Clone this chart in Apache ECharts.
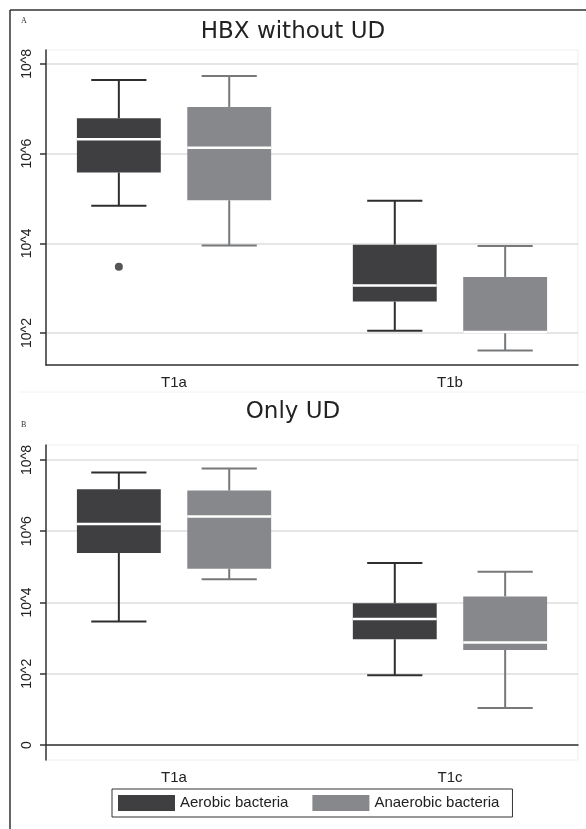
<!DOCTYPE html>
<html>
<head>
<meta charset="utf-8">
<script src="https://cdn.jsdelivr.net/npm/echarts@6/dist/echarts.min.js"></script>
<style>
html,body{margin:0;padding:0;background:#fff;}
#chart{width:586px;height:829px;}
</style>
</head>
<body>
<div id="chart"></div>
<script>
// ---- data (log10 CFU values) ----
const titleA = 'HBX without UD';
const titleB = 'Only UD';
const categoriesA = ['T1a', 'T1b'];
const categoriesB = ['T1a', 'T1c'];
const seriesNames = ['Aerobic bacteria', 'Anaerobic bacteria'];
// [min, Q1, median, Q3, max]
const aerobicA   = [[4.84, 5.58, 6.32, 6.79, 7.64], [2.05, 2.70, 3.06, 3.97, 4.95]];
const anaerobicA = [[3.95, 4.96, 6.13, 7.04, 7.73], [1.61, 2.00, 2.02, 3.25, 3.94]];
const outliersA  = [[1, 3.48]];   // [category (1-based), value]
const aerobicB   = [[3.47, 5.39, 6.20, 7.18, 7.65], [1.96, 2.97, 3.54, 3.98, 5.11]];
const anaerobicB = [[4.65, 4.95, 6.41, 7.14, 7.76], [1.04, 2.67, 2.88, 4.17, 4.86]];
const yTicksA = [2, 4, 6, 8];
const yTicksB = [0, 2, 4, 6, 8];
const yLabel = v => (v === 0 ? '0' : '10^' + v);

// ---- styling ----
const colAer = '#3f3f41', colAerLine = '#2e2e2e';
const colAna = '#87888b', colAnaLine = '#77787a';
const font = 'Liberation Sans, Arial, sans-serif';

function toItems(arr) { return arr.map((d, i) => [i + 1].concat(d)); }

function makeRender(off, fill, line) {
  return function (params, api) {
    const cx = api.value(0) + off;
    const mn = api.value(1), q1 = api.value(2), md = api.value(3), q3 = api.value(4), mx = api.value(5);
    const hw = 0.152, cw = 0.1;
    const p = (dx, v) => api.coord([cx + dx, v]);
    const ls = { stroke: line, lineWidth: 2 };
    const a = p(-hw, q3), b = p(hw, q1);
    return {
      type: 'group',
      children: [
        { type: 'line', shape: { x1: p(0, q3)[0], y1: p(0, q3)[1], x2: p(0, mx)[0], y2: p(0, mx)[1] }, style: ls },
        { type: 'line', shape: { x1: p(-cw, mx)[0], y1: p(-cw, mx)[1], x2: p(cw, mx)[0], y2: p(cw, mx)[1] }, style: ls },
        { type: 'line', shape: { x1: p(0, q1)[0], y1: p(0, q1)[1], x2: p(0, mn)[0], y2: p(0, mn)[1] }, style: ls },
        { type: 'line', shape: { x1: p(-cw, mn)[0], y1: p(-cw, mn)[1], x2: p(cw, mn)[0], y2: p(cw, mn)[1] }, style: ls },
        { type: 'rect', shape: { x: a[0], y: a[1], width: b[0] - a[0], height: b[1] - a[1] }, style: { fill: fill } },
        { type: 'line', shape: { x1: p(-hw, md)[0], y1: p(-hw, md)[1], x2: p(hw, md)[0], y2: p(hw, md)[1] }, style: { stroke: '#ffffff', lineWidth: 2.5 } }
      ]
    };
  };
}

function boxSeries(name, data, gi, off, fill, line) {
  return {
    type: 'custom', name: name, xAxisIndex: gi, yAxisIndex: gi,
    color: fill, itemStyle: { color: fill },
    encode: { x: 0, y: [1, 2, 3, 4, 5] },
    data: toItems(data),
    renderItem: makeRender(off, fill, line),
    silent: true
  };
}

function xAxis(gi, cats) {
  return {
    type: 'value', gridIndex: gi, min: 0.536, max: 2.464,
    splitLine: { show: false },
    axisLine: { lineStyle: { color: '#333', width: 1.5 } },
    axisTick: { show: false, customValues: [1, 2] },
    axisLabel: { customValues: [1, 2], formatter: v => cats[Math.round(v) - 1], fontSize: 15, fontFamily: font, color: '#222', margin: 10 }
  };
}
function yAxis(gi, mn, mx, ticks) {
  return {
    type: 'value', gridIndex: gi, min: mn, max: mx,
    axisLine: { show: true, lineStyle: { color: '#333', width: 1.5 } },
    axisTick: { show: true, length: 6, customValues: ticks, lineStyle: { color: '#333', width: 1.5 } },
    axisLabel: { customValues: ticks, formatter: yLabel, rotate: 90, fontSize: 14, fontFamily: font, color: '#222', margin: 12 },
    splitLine: { show: true, lineStyle: { color: '#dcdcdc', width: 1.5 } }
  };
}

const chart = echarts.init(document.getElementById('chart'), null, { renderer: 'canvas' });
chart.setOption({
  animation: false,
  backgroundColor: '#fff',
  title: [
    { text: titleA, left: 'center', top: 16, textStyle: { fontSize: 23, fontWeight: 'normal', fontFamily: 'DejaVu Sans', color: '#222' } },
    { text: titleB, left: 'center', top: 396, textStyle: { fontSize: 23, fontWeight: 'normal', fontFamily: 'DejaVu Sans', color: '#222' } }
  ],
  grid: [
    { left: 46, right: 8, top: 50, height: 315, show: true, borderColor: '#eeeeee', borderWidth: 1 },
    { left: 46, right: 8, top: 445, height: 315, show: true, borderColor: '#eeeeee', borderWidth: 1 }
  ],
  xAxis: [xAxis(0, categoriesA), xAxis(1, categoriesB)],
  yAxis: [yAxis(0, 1.287, 8.31, yTicksA), yAxis(1, -0.42, 8.42, yTicksB)],
  legend: {
    data: [{ name: seriesNames[0], icon: 'rect' }, { name: seriesNames[1], icon: 'rect' }],
    left: 112, top: 789, itemWidth: 57, itemHeight: 16, itemGap: 24,
    padding: [6, 13, 6, 6], borderColor: '#333', borderWidth: 1, selectedMode: false,
    textStyle: { fontSize: 15, fontFamily: font, color: '#222' }
  },
  series: [
    boxSeries(seriesNames[0], aerobicA, 0, -0.2, colAer, colAerLine),
    boxSeries(seriesNames[1], anaerobicA, 0, 0.2, colAna, colAnaLine),
    {
      type: 'scatter', name: seriesNames[0], xAxisIndex: 0, yAxisIndex: 0,
      data: outliersA.map(d => [d[0] - 0.2, d[1]]), symbol: 'circle', symbolSize: 8,
      itemStyle: { color: '#2a2a2a' }, silent: true
    },
    boxSeries(seriesNames[0], aerobicB, 1, -0.2, colAer, colAerLine),
    boxSeries(seriesNames[1], anaerobicB, 1, 0.2, colAna, colAnaLine)
  ],
  graphic: [
    { type: 'line', shape: { x1: 10, y1: 10, x2: 586, y2: 10 }, style: { stroke: '#333', lineWidth: 1.5 } },
    { type: 'line', shape: { x1: 10, y1: 10, x2: 10, y2: 829 }, style: { stroke: '#333', lineWidth: 1.5 } },
    { type: 'line', shape: { x1: 18, y1: 392, x2: 586, y2: 392 }, style: { stroke: '#f2f2f2', lineWidth: 1 } },
    { type: 'text', left: 21, top: 17, style: { text: 'A', font: '8px Liberation Serif, serif', fill: '#333' } },
    { type: 'text', left: 21, top: 421, style: { text: 'B', font: '8px Liberation Serif, serif', fill: '#333' } }
  ]
});
</script>
</body>
</html>
